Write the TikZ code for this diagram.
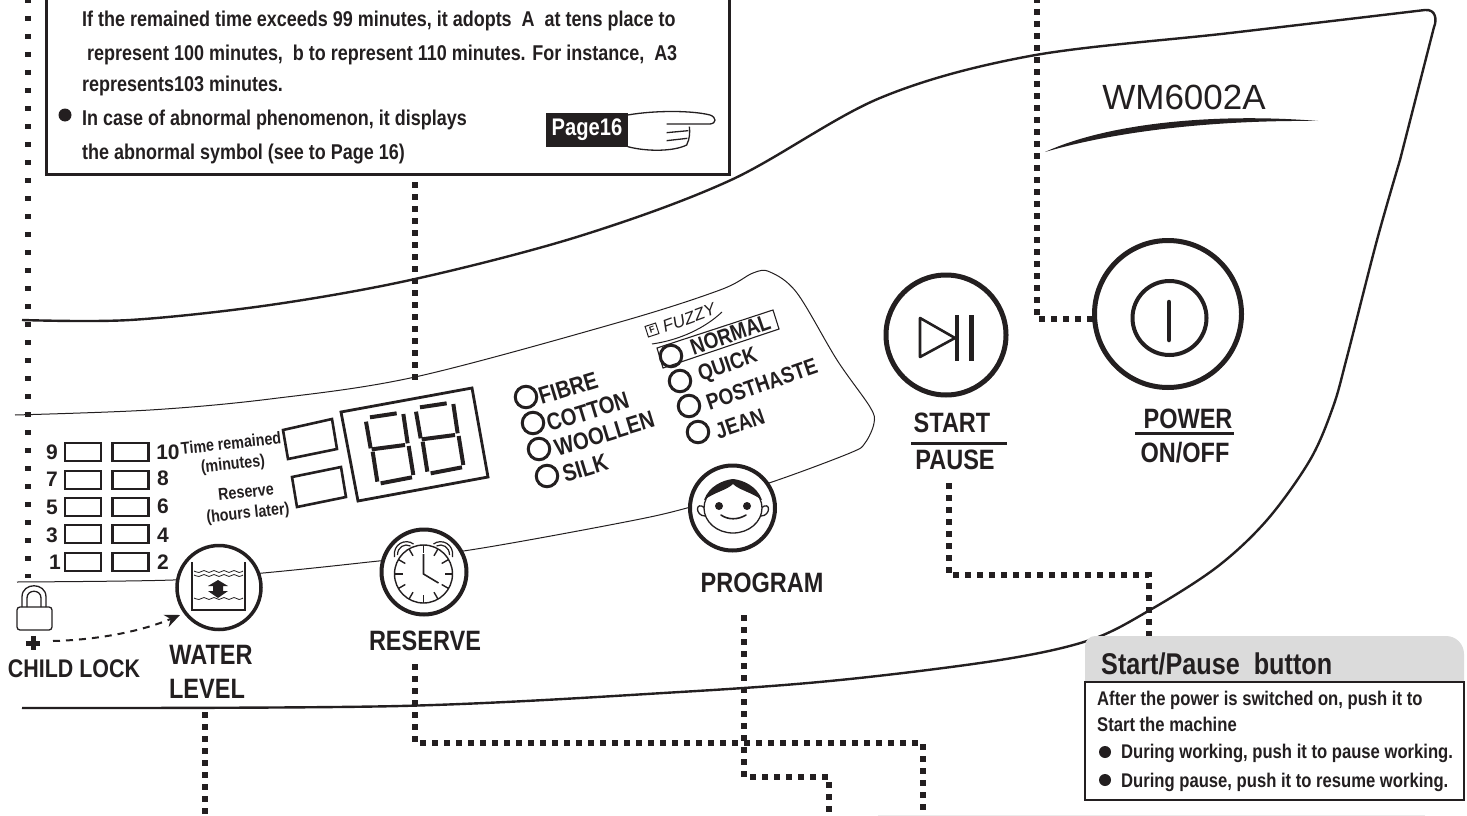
\documentclass[tikz,border=0pt]{standalone}
\usepackage{fontspec}
\setmainfont{Liberation Sans}
\newfontfamily\cf[FakeStretch=0.84]{Liberation Sans}
\usetikzlibrary{arrows.meta,calc}
\definecolor{ink}{HTML}{231F20}
\tikzset{
  mainline/.style={draw=ink,line width=2.4pt},
  thin line/.style={draw=ink,line width=1pt},
  dotlink/.style={draw=ink,line width=6pt,dash pattern=on 6pt off 6pt},
  widedots/.style={draw=ink,line width=6pt,dash pattern=on 5pt off 13pt},
  button/.style={circle,draw=ink,fill=white,line width=4pt,inner sep=0pt},
  bigbutton/.style={circle,draw=ink,fill=white,line width=5pt,inner sep=0pt},
  lamp/.style={circle,draw=ink,line width=3pt,minimum size=21.5pt,inner sep=0pt},
  bar/.style={draw=ink,line width=2.6pt,minimum width=36pt,minimum height=18pt,inner sep=0pt},
  lab/.style={text=ink,inner sep=0pt,font=\cf\bfseries},
  body/.style={lab,anchor=base west,font=\cf\bfseries\fontsize{21.4}{22}\selectfont},
  sbody/.style={lab,anchor=base west,font=\cf\bfseries\fontsize{19.8}{20}\selectfont},
  num/.style={lab,font=\bfseries\fontsize{21}{22}\selectfont},
  caption/.style={lab,font=\cf\bfseries\fontsize{28}{30}\selectfont},
  prog/.style={lab,anchor=west,rotate=17,font=\cf\bfseries\fontsize{24}{24}\selectfont},
  fuzzyp/.style={lab,anchor=west,rotate=19,font=\cf\bfseries\fontsize{22.5}{24}\selectfont},
  small/.style={lab,rotate=6,font=\cf\bfseries\fontsize{17}{18}\selectfont},
  dotb/.style={circle,fill=ink,minimum size=13pt,inner sep=0pt},
  seg/.style={draw=ink,line width=4pt},
}
\begin{document}
\begin{tikzpicture}[x=1pt,y=-1pt]
\useasboundingbox (0,0) rectangle (1467,816);
\clip (0,0) rectangle (1467,816);
% body outline
\draw[mainline,line join=round] plot[smooth,tension=.55] coordinates {(22,320) (130,320) (270,305) (415,279) (580,236) (731,180) (880,98) (1030,56) (1230,33) (1425,10)}
  .. controls (1436,9) and (1437,20) .. (1434,27) -- (1400,160);
\draw[mainline] plot[smooth,tension=.55] coordinates {(1400,160) (1377,240) (1347,357) (1333,407) (1310,460) (1267,520) (1217,567) (1150,610) (1090,640) (1000,660) (840,680) (680,692) (400,706) (22,708)};
% panel
\draw[thin line] plot[smooth,tension=.55] coordinates {(15,415) (150,410) (270,399) (415,377) (620,322) (720,290) (753,273) (770,272) (797,293) (837,360) (870,407) (874,423) (865,443) (850,453) (772,482) (687,508) (620,523) (470,550) (360,563) (263,573) (173,580) (17,582)};
% model
\node[inner sep=0pt,text=ink,font=\fontsize{35}{36}\selectfont] (model) at (1184,97) {WM6002A};
\fill[ink] (1045,152) .. controls (1110,122) and (1220,113) .. (1318,121) .. controls (1220,120) and (1120,130) .. cycle;
% top note box
\draw[ink,line width=3pt] (46,-5) -- (46,174) -- (729,174) -- (729,-5);
\node[body] (n1) at (82,27) {If the remained time exceeds 99 minutes, it adopts\ \ A\ \ at tens place to};
\node[body] (n2) at (87,60) {represent 100 minutes,\ \ b to represent 110 minutes. For instance,\ \ A3};
\node[body] (n3) at (82,92) {represents103 minutes.};
\node[dotb] (nb) at (65,115) {};
\node[body] (n4) at (82,125) {In case of abnormal phenomenon, it displays};
\node[body] (n5) at (82,159) {the abnormal symbol (see to Page 16)};
\node[fill=ink,text=white,minimum width=82pt,minimum height=34pt,inner sep=0pt,font=\cf\bfseries\fontsize{24}{24}\selectfont] (pagetag) at (587,130) {Page16};
\begin{scope}[shift={(530,100)},scale=1/3]
\draw[ink,line width=1.3pt,line join=round] (293,45) .. controls (380,30) and (490,32) .. (540,45) .. controls (560,52) and (560,70) .. (540,72) -- (410,72);
\draw[ink,line width=1.3pt] (293,140) .. controls (350,155) and (430,155) .. (470,135) .. controls (480,115) and (480,95) .. (478,80);
\draw[ink,line width=1.3pt] (410,98) -- (475,92) (410,122) -- (472,115);
\end{scope}
% connectors
\coordinate (leftA) at (28,-2);
\coordinate (leftB) at (28,578);
\coordinate (boxlow) at (415,182);
\coordinate (dispTop) at (415,382);
\coordinate (pwrTop) at (1037,-3);
\coordinate (pwrCorner) at (1037,319);
\coordinate (pwrEnd) at (1094,319);
\coordinate (startA) at (949,483);
\coordinate (startB) at (949,575);
\coordinate (startC) at (1149,575);
\coordinate (startD) at (1149,637);
\coordinate (resA) at (415,664);
\coordinate (resB) at (415,743);
\coordinate (resC) at (923,743);
\coordinate (resD) at (923,820);
\coordinate (prA) at (744,615);
\coordinate (prB) at (744,777);
\coordinate (prC) at (829,777);
\coordinate (prD) at (829,820);
\coordinate (wlA) at (205,712);
\coordinate (wlB) at (205,820);
\draw[widedots] (leftA) -- (leftB);
\draw[dotlink] (boxlow) -- (dispTop);
\draw[dotlink] (pwrTop) -- (pwrCorner) -- (pwrEnd);
\draw[dotlink] (startA) -- (startB) -- (startC) -- (startD);
\draw[dotlink] (resA) -- (resB) -- (resC) -- (resD);
\draw[dotlink] (prA) -- (prB) -- (prC) -- (prD);
\draw[dotlink] (wlA) -- (wlB);
% level bars
\foreach \r/\yy in {a/452,b/480,c/507,d/534,e/562}{
  \node[bar] (bl\r) at (83,\yy) {};
  \node[bar] (br\r) at (130.5,\yy) {};
}
\node[num] (n9) at (52,452) {9};
\node[num] (n10) at (168,452) {10};
\node[num] (n7) at (52,479) {7};
\node[num] (n8) at (163,478) {8};
\node[num] (n5n) at (52,507) {5};
\node[num] (n6) at (163,506) {6};
\node[num] (n3n) at (52,535) {3};
\node[num] (n4n) at (163,535) {4};
\node[num] (n1n) at (55,562) {1};
\node[num] (n2n) at (163,562) {2};
\node[small] (tr) at (231,443) {Time remained};
\node[small] (mn) at (233,465) {(minutes)};
\node[small] (rs) at (246,492) {Reserve};
\node[small] (hl) at (248,514) {(hours later)};
% displays
\draw[ink,line width=2.6pt] (283,430) -- (332,419) -- (337,449) -- (288,459) -- cycle;
\draw[ink,line width=2.6pt] (292,477) -- (341,467) -- (346,497) -- (297,507) -- cycle;
\draw[ink,line width=2.8pt] (341,412) -- (472,388) -- (488,477) -- (358,501) -- cycle;
\begin{scope}[shift={(270,270)},scale=1/3]
\foreach \dx/\dy in {0/0,150/-30}{
\begin{scope}[shift={(\dx,\dy)}]
\draw[seg] (300,442) -- (380,430);
\draw[seg] (288,455) -- (302,535);
\draw[seg] (400,432) -- (413,520);
\draw[seg] (305,538) -- (405,525);
\draw[seg] (308,545) -- (322,635);
\draw[seg] (416,528) -- (430,615);
\draw[seg] (332,640) -- (426,622);
\end{scope}}
\end{scope}
% cloth lamps
\node[lamp] (l1) at (526,397) {};
\node[lamp] (l2) at (533,423) {};
\node[lamp] (l3) at (539,449) {};
\node[lamp] (l4) at (547,476) {};
\node[prog] (fibre) at (539,397) {FIBRE};
\node[prog] (cotton) at (547,424) {COTTON};
\node[prog] (wool) at (555,449) {WOOLLEN};
\node[prog] (silk) at (563,475) {SILK};
% fuzzy
\node[lamp] (p1) at (671,356) {};
\node[lamp] (p2) at (680,381) {};
\node[lamp] (p3) at (689,406) {};
\node[lamp] (p4) at (698,432) {};
\draw[ink,line width=1.1pt] (657,348) -- (773,310) -- (779,329) -- (663,368) -- cycle;
\node[fuzzyp] (pa) at (691,348) {NORMAL};
\node[fuzzyp] (pb) at (699,376) {QUICK};
\node[fuzzyp] (pc) at (707,403) {POSTHASTE};
\node[fuzzyp] (pd) at (716,432) {JEAN};
\node[inner sep=0pt,text=ink,rotate=20,font=\itshape\fontsize{17}{18}\selectfont] (fz) at (689,318) {FUZZY};
\node[draw=ink,line width=1pt,rotate=18,inner sep=0pt,minimum size=11pt,text=ink,font=\bfseries\fontsize{9}{9}\selectfont] (fzi) at (652,330) {F};
\draw[ink,line width=1pt] (652,344) .. controls (680,340) and (705,328) .. (722,312);
% child lock
\draw[ink,line width=1.3pt,fill=white,rounded corners=3pt] (17,607) rectangle (52,630);
\draw[ink,line width=1.3pt] (22,607) -- (22,597) .. controls (22,582) and (46,582) .. (46,597) -- (46,607);
\draw[ink,line width=1.3pt] (27,607) -- (27,598) .. controls (27,589) and (41,589) .. (41,598) -- (41,607);
\node[inner sep=0pt,minimum size=14pt] (plus) at (33,643) {};
\draw[ink,line width=5pt] (plus.north) -- (plus.south) (plus.west) -- (plus.east);
\node[bigbutton,line width=3.5pt,minimum size=84pt] (water) at (219,587.5) {};
\draw[ink,line width=2pt,dash pattern=on 7pt off 6pt,-{Stealth[length=15pt,width=13pt]}] (53,641) .. controls (95,640) and (140,632) .. (180,615);
% water icon
\draw[ink,line width=2pt] (192,562) -- (192,610) -- (245,610) -- (245,562);
\foreach \yy in {571,575,598}{
  \draw[ink,line width=.8pt] plot[smooth,tension=.7] coordinates {(194,\yy) (199,\yy+1.5) (204,\yy-.5) (209,\yy+1.5) (214,\yy-.5) (219,\yy+1.5) (224,\yy-.5) (229,\yy+1.5) (234,\yy-.5) (239,\yy+1.5) (243,\yy)};
}
\fill[ink] (218,580) -- (228,586) -- (223,586) -- (223,591) -- (228,591) -- (218,598) -- (208,591) -- (213,591) -- (213,586) -- (208,586) -- cycle;
% reserve
\node[button,minimum size=85pt] (reserve) at (424,572) {};
\begin{scope}[shift={(423.5,574)}]
\draw[ink,line width=1.4pt] (0,0) circle (29);
\foreach \a in {0,30,...,330}{\draw[ink,line width=1.4pt] (\a:29) -- (\a:21);}
\draw[ink,line width=1.6pt] (0,-20) -- (0,0) -- (15,9);
\draw[ink,line width=1.2pt] (-29,-17) .. controls (-31,-30) and (-18,-36) .. (-10,-30) (-26,-19) .. controls (-26,-27) and (-19,-31) .. (-13,-28);
\draw[ink,line width=1.2pt] (29,-17) .. controls (31,-30) and (18,-36) .. (10,-30) (26,-19) .. controls (26,-27) and (19,-31) .. (13,-28);
\end{scope}
% program
\node[button,minimum size=85pt] (program) at (732.5,508) {};
\begin{scope}[shift={(733,508)}]
\draw[ink,line width=1.3pt,fill=white] (-28,0) .. controls (-38,-8) and (-38,8) .. (-28,8);
\draw[ink,line width=1.3pt,fill=white] (28,0) .. controls (38,-8) and (38,8) .. (28,8);
\draw[ink,line width=1.3pt,fill=white] (0,0) ellipse (29 and 25);
\fill[ink] (-29,-8) .. controls (-24,-22) and (-10,-28) .. (0,-29) .. controls (10,-28) and (24,-22) .. (29,-8) .. controls (18,-16) and (6,-18) .. (0,-24) .. controls (-6,-18) and (-18,-16) .. cycle;
\fill[ink] (-14,-2) circle (4) (14,-2) circle (4);
\draw[ink,line width=1.6pt,line cap=round] (-12,7) .. controls (-5,12) and (5,12) .. (13,7);
\end{scope}
% start
\node[bigbutton,minimum size=120pt] (start) at (946,335) {};
\draw[ink,line width=2.6pt,line join=round] (920,318) -- (955,338) -- (920,357) -- cycle;
\draw[ink,line width=3.4pt] (957,315) -- (957,361);
\draw[ink,line width=5pt] (971,315) -- (971,361);
% power
\node[bigbutton,minimum size=147pt] (power) at (1168,314) {};
\draw[ink,line width=4pt] (1169.5,318) circle (37);
\draw[ink,line width=4.5pt,line cap=round] (1169,302) -- (1169,340);
% captions
\node[caption] (startlbl) at (952,423) {START};
\draw[ink,line width=3pt] (911,443) -- (1007,443);
\node[caption] (pauselbl) at (955,460) {PAUSE};
\node[caption] (powerlbl) at (1188,419) {POWER};
\draw[ink,line width=3pt] (1135,433) -- (1234,433);
\node[caption] (onoff) at (1185,453) {ON/OFF};
\node[caption] (prlbl) at (762,583) {PROGRAM};
\node[caption] (reslbl) at (425,641) {RESERVE};
\node[caption] (w1) at (211,655) {WATER};
\node[caption] (w2) at (207,689) {LEVEL};
\node[caption,font=\cf\bfseries\fontsize{25.5}{28}\selectfont] (cl) at (74,669) {CHILD LOCK};
% start/pause panel
\fill[black!14] (1085,690) -- (1085,646) .. controls (1085,640) and (1090,636) .. (1095,636) -- (1446,636) .. controls (1456,636) and (1464,644) .. (1464,654) -- (1464,690) -- cycle;
\node[lab,anchor=base west,font=\cf\bfseries\fontsize{30}{32}\selectfont] (sptitle) at (1101,674) {Start/Pause\ \ button};
\draw[ink,line width=2.6pt,fill=white] (1085,682) rectangle (1464,800);
\node[sbody] (s1) at (1097,705) {After the power is switched on, push it to};
\node[sbody] (s2) at (1097,731) {Start the machine};
\node[dotb,minimum size=12pt] (sb1) at (1105,752) {};
\node[sbody] (s3) at (1121,758) {During working, push it to pause working.};
\node[dotb,minimum size=12pt] (sb2) at (1105,780) {};
\node[sbody] (s4) at (1121,787) {During pause, push it to resume working.};
% next panel edge
\fill[black!8] (878,814.5) rectangle (1425,816);
\end{tikzpicture}
\end{document}
